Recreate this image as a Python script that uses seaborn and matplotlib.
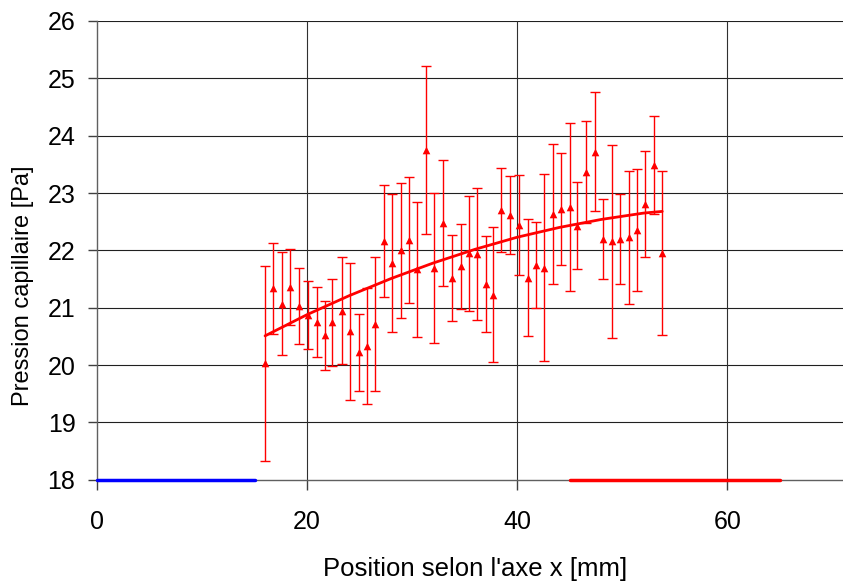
import matplotlib
matplotlib.use("Agg")
import matplotlib.pyplot as plt
import seaborn as sns
import pandas as pd

# measured points (position in mm, capillary pressure in Pa, error bar half-width)
x_pos = [16.0, 16.8, 17.6, 18.4, 19.2, 20.1, 20.9, 21.7, 22.4, 23.3,
         24.1, 24.9, 25.7, 26.5, 27.3, 28.1, 28.9, 29.7, 30.5, 31.3,
         32.1, 32.9, 33.8, 34.6, 35.4, 36.2, 37.0, 37.7, 38.5, 39.3,
         40.2, 41.0, 41.8, 42.5, 43.4, 44.2, 45.0, 45.7, 46.5, 47.4,
         48.2, 49.0, 49.8, 50.6, 51.4, 52.2, 53.0, 53.8]
pressure = [20.03, 21.34, 21.07, 21.36, 21.03, 20.87, 20.75, 20.52, 20.75, 20.95,
            20.59, 20.22, 20.33, 20.71, 22.16, 21.78, 22.00, 22.18, 21.67, 23.75,
            21.69, 22.48, 21.52, 21.72, 21.95, 21.93, 21.41, 21.23, 22.71, 22.61,
            22.44, 21.52, 21.74, 21.70, 22.63, 22.72, 22.76, 22.43, 23.37, 23.72,
            22.20, 22.16, 22.20, 22.23, 22.36, 22.81, 23.49, 21.95]
errors = [1.70, 0.79, 0.90, 0.66, 0.67, 0.59, 0.61, 0.60, 0.76, 0.93,
          1.19, 0.67, 1.01, 1.17, 0.98, 1.20, 1.18, 1.10, 1.18, 1.46,
          1.31, 1.10, 0.75, 0.74, 1.00, 1.15, 0.84, 1.18, 0.73, 0.68,
          0.87, 1.02, 0.75, 1.63, 1.22, 0.98, 1.47, 0.76, 0.89, 1.04,
          0.69, 1.68, 0.78, 1.16, 1.06, 0.92, 0.85, 1.43]

# trend curve
fit_x = [16, 20, 24, 28, 32, 36, 40, 44, 48, 52, 53.8]
fit_y = [20.51, 20.88, 21.21, 21.51, 21.78, 22.02, 22.23, 22.40, 22.54, 22.65, 22.68]

# zones marked on the x axis
blue_zone = [0, 15]
red_zone = [45, 65]
zone_level = [18, 18]

x_ticks = [0, 20, 40, 60]
y_ticks = [18, 19, 20, 21, 22, 23, 24, 25, 26]

sns.set_theme(style="white")
plt.rcParams['font.family'] = ['Liberation Sans', 'DejaVu Sans']
plt.rcParams['text.color'] = 'black'
plt.rcParams['axes.labelcolor'] = 'black'
plt.rcParams['xtick.color'] = 'black'
plt.rcParams['ytick.color'] = 'black'

df = pd.DataFrame({"x": x_pos, "p": pressure, "err": errors})
fit_df = pd.DataFrame({"x": fit_x, "p": fit_y})

fig = plt.figure(figsize=(8.43, 5.83), dpi=100)
ax = fig.add_axes([0.115, 0.177, 0.885, 0.787])

# grid
for yv in y_ticks[1:]:
    ax.axhline(yv, color="#202020", lw=0.8, zorder=0)
for xv in x_ticks[1:]:
    ax.axvline(xv, color="#303030", lw=0.8, zorder=0)

ax.errorbar(df["x"], df["p"], yerr=df["err"], fmt="none", ecolor="red",
            elinewidth=1.0, capsize=3.5, capthick=1.0, zorder=2)
sns.lineplot(data=fit_df, x="x", y="p", color="red", lw=2.0, ax=ax,
             sort=False, zorder=3)
sns.scatterplot(data=df, x="x", y="p", marker="^", color="red", s=30,
                edgecolor="red", linewidth=0, ax=ax, zorder=4)

ax.plot(blue_zone, zone_level, color="blue", lw=2.5, clip_on=False, zorder=5)
ax.plot(red_zone, zone_level, color="red", lw=2.5, clip_on=False, zorder=5)

ax.set_xlim(0, 71)
ax.set_ylim(18, 26)
ax.set_xticks(x_ticks)
ax.set_yticks(y_ticks)

for side in ["top", "right"]:
    ax.spines[side].set_visible(False)
for side in ["left", "bottom"]:
    ax.spines[side].set_color("#606060")
    ax.spines[side].set_linewidth(1.0)

ax.tick_params(axis="y", direction="out", length=6.5, width=1, color="#404040",
               labelcolor="black", labelsize=18, pad=9, left=True)
ax.tick_params(axis="x", direction="out", length=7, width=1, color="#404040",
               labelcolor="black", labelsize=18, pad=15, bottom=True)

ax.set_xlabel("Position selon l'axe x [mm]", fontsize=18.5, color="black")
ax.set_ylabel("Pression capillaire [Pa]", fontsize=17, va="center", color="black")
ax.xaxis.set_label_coords(0.507, -0.168)
ax.yaxis.set_label_coords(-0.099, 0.424)

fig.savefig("out.png", dpi=100)
